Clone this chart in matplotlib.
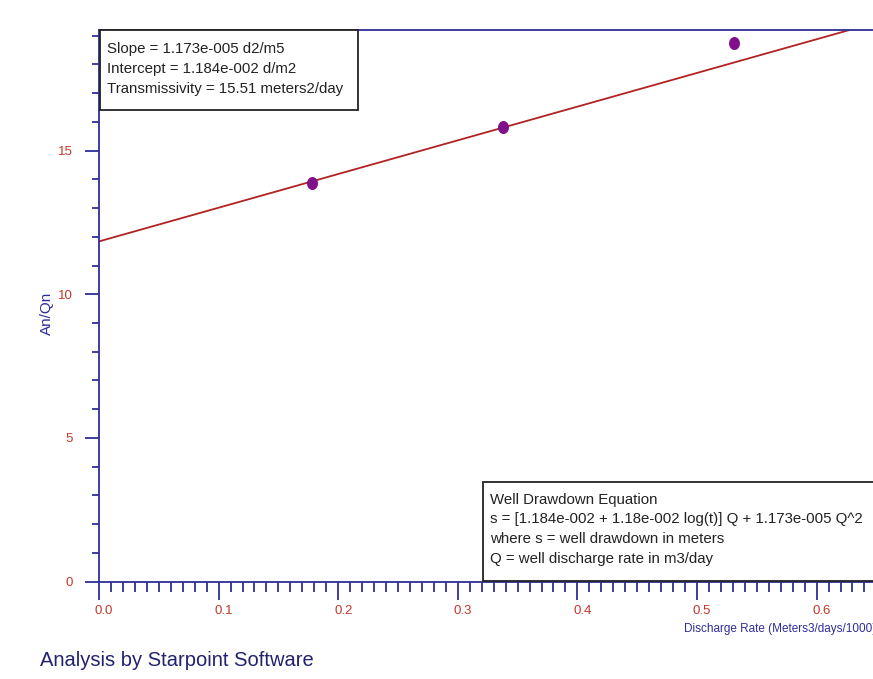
import matplotlib
matplotlib.use("Agg")
import matplotlib.pyplot as plt
import numpy as np
from matplotlib.patches import Rectangle
from matplotlib.ticker import MultipleLocator, FixedLocator
from matplotlib.path import Path
from matplotlib.transforms import ScaledTranslation

plt.rcParams['font.family'] = ['Liberation Sans', 'DejaVu Sans']

# data
discharge = [0.178, 0.338, 0.531]
an_qn = [13.86, 15.81, 18.76]
intercept = 11.84
slope = 11.73
x_ticks = [0.0, 0.1, 0.2, 0.3, 0.4, 0.5, 0.6]
x_tick_labels = ["0.0", "0.1", "0.2", "0.3", "0.4", "0.5", "0.6"]

box1_lines = ["Slope = 1.173e-005 d2/m5",
              "Intercept = 1.184e-002 d/m2",
              "Transmissivity = 15.51 meters2/day"]
box2_lines = ["Well Drawdown Equation",
              "s = [1.184e-002 + 1.18e-002 log(t)] Q + 1.173e-005 Q^2",
              "where s = well drawdown in meters",
              "Q = well discharge rate in m3/day"]

W, H = 873, 679
fig = plt.figure(figsize=(W/100, H/100), dpi=100)
navy = '#2e2e9a'
red = '#c0392b'

x0, y_bot, y_top = 99, 581.5, 30
ppx = 1196.0  # pixels per x unit
ax = fig.add_axes([x0/W, (H-y_bot)/H, 0.7*ppx/W, (y_bot-y_top)/H])
ax.set_xlim(0, 0.7)
ax.set_ylim(0, 19.2)

# slightly tall elliptical marker
t = np.linspace(0, 2*np.pi, 40)
ell = Path(np.column_stack([0.82*np.cos(t), np.sin(t)]))

xs = np.array([0, 0.7])
ax.plot(xs, intercept + slope*xs, color='#b22222', lw=1.3, zorder=2)
ax.scatter(discharge, an_qn, s=70, color='#80108a', zorder=3, marker=ell)

for s in ['left', 'bottom', 'top', 'right']:
    ax.spines[s].set_color(navy)
    ax.spines[s].set_linewidth(1.3)

ax.xaxis.set_major_locator(FixedLocator(x_ticks))
ax.xaxis.set_minor_locator(MultipleLocator(0.01))
ax.yaxis.set_major_locator(MultipleLocator(5))
ax.yaxis.set_minor_locator(MultipleLocator(1))
ax.tick_params(axis='both', which='major', direction='out', color=navy, width=1.3,
               labelcolor=red, labelsize=9.5)
ax.tick_params(axis='x', which='major', length=13, pad=4)
ax.tick_params(axis='x', which='minor', length=7, width=1.3, color=navy, direction='out')
ax.tick_params(axis='y', which='major', length=10, pad=9)
ax.tick_params(axis='y', which='minor', length=5, width=1.3, color=navy, direction='out')
ax.set_xticklabels(x_tick_labels)
shift = ScaledTranslation(5/100, 0, fig.dpi_scale_trans)
for lab in ax.get_xticklabels():
    lab.set_transform(lab.get_transform() + shift)

fig.text(47/W, 1-313/H, "An/Qn", rotation=90, color=navy, fontsize=11,
         ha='center', va='center')
fig.text(684/W, 1-629/H, "Discharge Rate (Meters3/days/1000)", color=navy,
         fontsize=8.5, ha='left', va='center')
fig.text(40/W, 1-660/H, "Analysis by Starpoint Software", color='#22226e',
         fontsize=14.5, ha='left', va='center')

# text boxes (figure pixel coords)
def px_rect(l, t, r, b):
    return Rectangle((l/W, 1-b/H), (r-l)/W, (b-t)/H, transform=fig.transFigure,
                     facecolor='white', edgecolor='#222222', lw=1.3, zorder=5)

fig.patches.append(px_rect(100, 30, 358, 110))
for i, line in enumerate(box1_lines):
    fig.text(107/W, 1-(49+20*i)/H, line, fontsize=10.8, color='#222222',
             ha='left', va='center', zorder=6)

fig.patches.append(px_rect(483, 482, 900, 581))
for i, line in enumerate(box2_lines):
    fig.text(490/W, 1-(500+19.5*i)/H, line, fontsize=10.8, color='#222222',
             ha='left', va='center', zorder=6)

fig.savefig("out.png", dpi=100)
